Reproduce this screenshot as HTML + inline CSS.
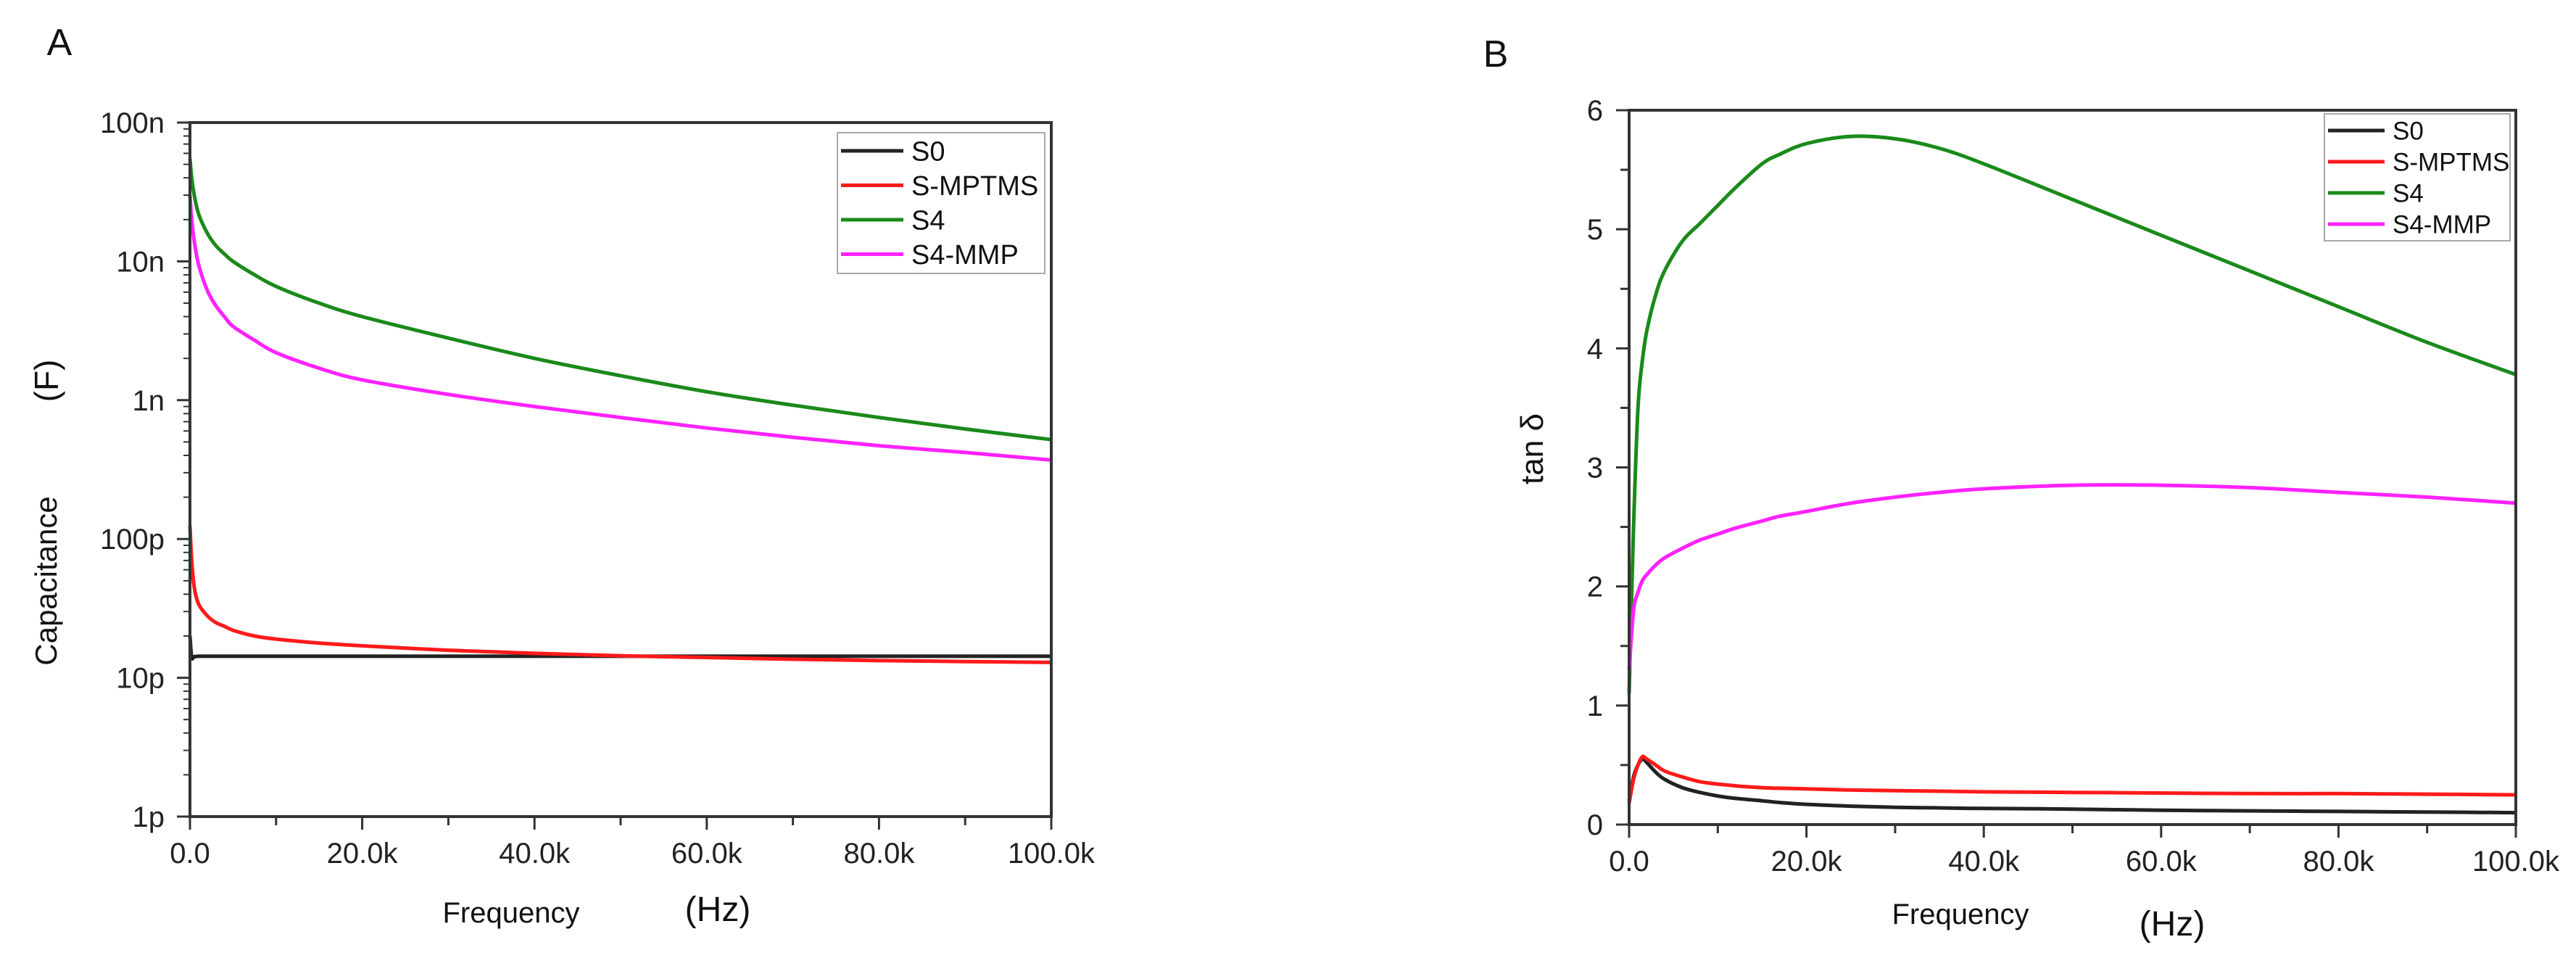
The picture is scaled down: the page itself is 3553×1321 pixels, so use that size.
<!DOCTYPE html>
<html><head><meta charset="utf-8"><style>
html,body{margin:0;padding:0;background:#fff;}
svg{display:block;font-family:"Liberation Sans",Arial,sans-serif;}
</style></head><body>
<svg id="fig" width="3553" height="1321" viewBox="0 0 3553 1321" xmlns="http://www.w3.org/2000/svg">
<g id="gA"></g>
<g id="gB"></g>
</svg>
<script>
// ---- Panel A data (capacitance, F) ----
const freqA = [0, 200, 500, 1000, 2000, 3000, 4000, 5000, 7500, 10000, 15000, 20000, 30000, 40000, 50000, 60000, 70000, 80000, 90000, 100000];
const capS0 = [20e-12, 14e-12, 14.2e-12, 14.3e-12, 14.3e-12, 14.3e-12, 14.3e-12, 14.3e-12, 14.3e-12, 14.3e-12, 14.3e-12, 14.3e-12, 14.3e-12, 14.3e-12, 14.3e-12, 14.3e-12, 14.3e-12, 14.3e-12, 14.3e-12, 14.3e-12];
const capSMPTMS = [125e-12, 70e-12, 45e-12, 34e-12, 28e-12, 25e-12, 23.5e-12, 22e-12, 20e-12, 19e-12, 17.8e-12, 17e-12, 15.8e-12, 15e-12, 14.4e-12, 14e-12, 13.6e-12, 13.3e-12, 13.1e-12, 12.9e-12];
const capS4 = [55e-9, 40e-9, 30e-9, 22e-9, 16e-9, 13e-9, 11.3e-9, 10e-9, 8e-9, 6.6e-9, 5e-9, 4e-9, 2.8e-9, 2e-9, 1.5e-9, 1.15e-9, 0.92e-9, 0.75e-9, 0.62e-9, 0.52e-9];
const capS4MMP = [30e-9, 20e-9, 14e-9, 9.5e-9, 6.2e-9, 4.8e-9, 4e-9, 3.4e-9, 2.7e-9, 2.2e-9, 1.7e-9, 1.4e-9, 1.1e-9, 0.9e-9, 0.75e-9, 0.63e-9, 0.54e-9, 0.47e-9, 0.42e-9, 0.37e-9];
const yTicksA = ["1p","10p","100p","1n","10n","100n"];
const xTickLabels = ["0.0","20.0k","40.0k","60.0k","80.0k","100.0k"];
// ---- Panel B data (tan delta) ----
const freqB = [0, 500, 1000, 1500, 2000, 3000, 4000, 6000, 8000, 10000, 12000, 15000, 17000, 20000, 25000, 30000, 35000, 40000, 50000, 60000, 70000, 80000, 90000, 100000];
const tanS0 = [0.2, 0.4, 0.5, 0.55, 0.52, 0.44, 0.38, 0.31, 0.27, 0.24, 0.22, 0.2, 0.185, 0.17, 0.155, 0.145, 0.14, 0.135, 0.13, 0.12, 0.115, 0.11, 0.105, 0.1];
const tanSMPTMS = [0.18, 0.38, 0.5, 0.57, 0.55, 0.5, 0.45, 0.4, 0.36, 0.34, 0.325, 0.31, 0.305, 0.3, 0.29, 0.285, 0.28, 0.275, 0.27, 0.265, 0.26, 0.26, 0.255, 0.25];
const tanS4 = [1.1, 2.5, 3.5, 3.9, 4.15, 4.45, 4.65, 4.9, 5.05, 5.2, 5.35, 5.55, 5.63, 5.72, 5.78, 5.76, 5.68, 5.55, 5.25, 4.95, 4.65, 4.35, 4.05, 3.78];
const tanS4MMP = [1.3, 1.8, 1.95, 2.05, 2.1, 2.18, 2.24, 2.32, 2.39, 2.44, 2.49, 2.55, 2.59, 2.63, 2.7, 2.75, 2.79, 2.82, 2.85, 2.85, 2.83, 2.79, 2.75, 2.7];
const yTicksB = [0,1,2,3,4,5,6];
const seriesNames = ["S0","S-MPTMS","S4","S4-MMP"];
const seriesColors = ["#222","#ff1a1a","#1a8a1a","#ff22ff"];

const NS="http://www.w3.org/2000/svg";
function mk(parent,tag,attrs,text){const e=document.createElementNS(NS,tag);for(const k in attrs)e.setAttribute(k,attrs[k]);if(text!==undefined)e.textContent=text;parent.appendChild(e);return e;}

function smoothPath(pts){
  let d="M"+pts[0][0].toFixed(1)+","+pts[0][1].toFixed(1);
  for(let i=0;i<pts.length-1;i++){
    const p0=pts[Math.max(0,i-1)],p1=pts[i],p2=pts[i+1],p3=pts[Math.min(pts.length-1,i+2)];
    const c1=[p1[0]+(p2[0]-p0[0])/6,p1[1]+(p2[1]-p0[1])/6];
    const c2=[p2[0]-(p3[0]-p1[0])/6,p2[1]-(p3[1]-p1[1])/6];
    d+=" C"+c1[0].toFixed(1)+","+c1[1].toFixed(1)+" "+c2[0].toFixed(1)+","+c2[1].toFixed(1)+" "+p2[0].toFixed(1)+","+p2[1].toFixed(1);
  }
  return d;
}

function drawPanel(g,cfg){
  const {L,R,T,B}=cfg;
  const xs=f=>L+(f/100000)*(R-L);
  cfg.series.forEach((s,i)=>{
    const pts=cfg.freq.map((f,j)=>[xs(f),cfg.ys(s[j])]);
    const p=mk(g,"path",{d:smoothPath(pts),fill:"none",stroke:seriesColors[i],"stroke-width":5,"stroke-linejoin":"round"});
    
    
  });
  const fr=mk(g,"rect",{x:L,y:T,width:R-L,height:B-T,fill:"none",stroke:"#333","stroke-width":4});
  
  
  for(let k=0;k<=10;k++){
    const x=xs(k*10000);
    mk(g,"line",{x1:x,x2:x,y1:B,y2:B+(k%2==0?18:12),stroke:"#333","stroke-width":3});
  }
  xTickLabels.forEach((lab,k)=>{
    const t=mk(g,"text",{x:xs(k*20000),y:B+64,"font-size":40,"text-anchor":"middle",fill:"#222"},lab);
    
    
  });
  cfg.yticks(g);
  const lg=mk(g,"g",{});
  
  
  const Lg=cfg.leg;
  mk(lg,"rect",{x:Lg.x,y:Lg.y,width:Lg.w,height:Lg.h,fill:"#fff",stroke:"#aaa","stroke-width":2});
  seriesNames.forEach((n,i)=>{
    const y=Lg.y+Lg.r0+i*Lg.dy;
    mk(lg,"line",{x1:Lg.x+5,x2:Lg.x+5+Lg.ll,y1:y,y2:y,stroke:seriesColors[i],"stroke-width":5});
    const t=mk(lg,"text",{x:Lg.x+Lg.ll+16,y:y+Lg.fs*0.36,"font-size":Lg.fs,fill:"#111"},n);
    
    
  });
}

const gA=document.getElementById("gA");
const A={L:262,R:1450,T:169,B:1126};
const ysA=v=>A.B-(Math.log10(v)+12)/5*(A.B-A.T);
drawPanel(gA,{...A,freq:freqA,series:[capS0,capSMPTMS,capS4,capS4MMP],ys:ysA,
  leg:{x:1155,y:183,w:286,h:194,r0:25,dy:47.5,ll:86,fs:38},
  yticks:(g)=>{
    yTicksA.forEach((lab,k)=>{
      const y=ysA(Math.pow(10,-12+k));
      mk(g,"line",{x1:A.L-18,x2:A.L,y1:y,y2:y,stroke:"#333","stroke-width":3});
      const t=mk(g,"text",{x:227,y:y+14,"font-size":40,"text-anchor":"end",fill:"#222"},lab);
      
      
      if(k<5){for(let m=2;m<=9;m++){const yy=ysA(m*Math.pow(10,-12+k));mk(g,"line",{x1:A.L-9,x2:A.L,y1:yy,y2:yy,stroke:"#333","stroke-width":2});}}
    });
  }});
let t;
t=mk(gA,"text",{x:82,y:76,"font-size":52,"text-anchor":"middle",fill:"#111"},"A");

t=mk(gA,"text",{x:0,y:0,"font-size":42,"text-anchor":"middle",fill:"#111",transform:"translate(78,801) rotate(-90)"},"Capacitance");

t=mk(gA,"text",{x:0,y:0,"font-size":46,"text-anchor":"middle",fill:"#111",transform:"translate(80,525) rotate(-90)"},"(F)");

t=mk(gA,"text",{x:705,y:1272,"font-size":40,"text-anchor":"middle",fill:"#111"},"Frequency");

t=mk(gA,"text",{x:990,y:1270,"font-size":48,"text-anchor":"middle",fill:"#111"},"(Hz)");


const gB=document.getElementById("gB");
const Bp={L:2247,R:3470,T:152,B:1137};
const ysB=v=>Bp.B-v/6*(Bp.B-Bp.T);
drawPanel(gB,{...Bp,freq:freqB,series:[tanS0,tanSMPTMS,tanS4,tanS4MMP],ys:ysB,
  leg:{x:3206,y:157,w:256,h:175,r0:23,dy:43,ll:78,fs:35},
  yticks:(g)=>{
    yTicksB.forEach(v=>{
      const y=ysB(v);
      mk(g,"line",{x1:Bp.L-18,x2:Bp.L,y1:y,y2:y,stroke:"#333","stroke-width":3});
      const t=mk(g,"text",{x:2211,y:y+14,"font-size":40,"text-anchor":"end",fill:"#222"},String(v));
      
      
      if(v<6){const yy=ysB(v+0.5);mk(g,"line",{x1:Bp.L-12,x2:Bp.L,y1:yy,y2:yy,stroke:"#333","stroke-width":3});}
    });
  }});
t=mk(gB,"text",{x:2063,y:92,"font-size":52,"text-anchor":"middle",fill:"#111"},"B");

t=mk(gB,"text",{x:0,y:0,"font-size":44,"text-anchor":"middle",fill:"#111",transform:"translate(2128,619) rotate(-90)"},"tan δ");

t=mk(gB,"text",{x:2704,y:1274,"font-size":40,"text-anchor":"middle",fill:"#111"},"Frequency");

t=mk(gB,"text",{x:2996,y:1290,"font-size":48,"text-anchor":"middle",fill:"#111"},"(Hz)");

</script>
</body></html>
